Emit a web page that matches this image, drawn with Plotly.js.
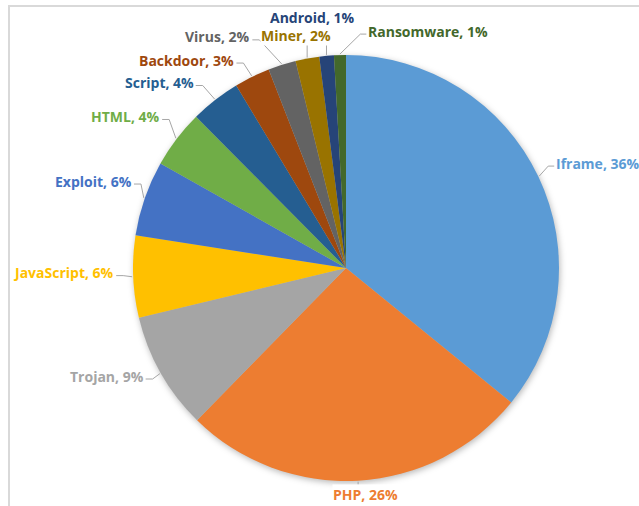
<!DOCTYPE html>
<html>
<head>
<meta charset="utf-8">
<script src="https://cdn.plot.ly/plotly-3.0.1.min.js"></script>
<style>
  html, body { margin: 0; padding: 0; background: #fff; }
  #wrap { position: relative; width: 639px; height: 506px; overflow: hidden; }
  #frame { position: absolute; left: 8px; top: 5px; width: 640px; height: 520px;
           border-top: 2px solid #d9d9d9; border-left: 2px solid #d9d9d9; pointer-events: none; }
  #chart { position: absolute; left: 0; top: 0; width: 639px; height: 506px; }
  #chart .pielayer { filter: drop-shadow(1px 2px 3px rgba(0,0,0,0.28)); }
</style>
</head>
<body>
<div id="wrap">
  <div id="chart"></div>
  <div id="frame"></div>
</div>
<script>
// ---- data ----
const categories = ['Iframe', 'PHP', 'Trojan', 'JavaScript', 'Exploit', 'HTML', 'Script', 'Backdoor', 'Virus', 'Miner', 'Android', 'Ransomware'];
const shares = [35.8, 26.4, 8.9, 6.2, 5.7, 4.4, 3.8, 2.7, 2.1, 1.8, 1.1, 0.9];
const sliceColors = ['#5B9BD5', '#ED7D31', '#A5A5A5', '#FFC000', '#4472C4', '#70AD47', '#255E91', '#9E480E', '#636363', '#997300', '#264478', '#43682B'];

// ---- label placement (layout only) ----
const labelXAnchor = ['left', 'center', 'right', 'right', 'right', 'right', 'right', 'right', 'right', 'center', 'center', 'left'];
const labelYAnchor = ['middle', 'top', 'middle', 'middle', 'middle', 'middle', 'middle', 'middle', 'middle', 'bottom', 'bottom', 'middle'];
const labelNudge = [[-3, -4], [6, -19], [3, -8], [4, -5], [9, -10], [2, -9], [-7, 0], [-7, 3], [-24, -7], [-7, 9], [-12, -6], [28, -2]];

const W = 639, H = 506;
const cx = 346, cy = 268, R = 213, gap = 22;
const px = x => x / W;
const py = y => 1 - y / H;

const total = shares.reduce((a, b) => a + b, 0);

const annotations = [];
const shapes = [];
let cum = 0;
shares.forEach((v, i) => {
  const mid = (cum + v / 2) / total * 2 * Math.PI;
  cum += v;
  const s = Math.sin(mid), c = Math.cos(mid);
  const P = [cx + (R + 1) * s, cy - (R + 1) * c];
  const ax = cx + (R + gap) * s + labelNudge[i][0];
  const ay = cy - (R + gap) * c + labelNudge[i][1];
  const pct = Math.round(100 * v / total);
  annotations.push({
    x: px(ax), y: py(ay), xref: 'paper', yref: 'paper',
    xanchor: labelXAnchor[i], yanchor: labelYAnchor[i],
    text: '<b>' + categories[i] + ', ' + pct + '%</b>',
    showarrow: false, bgcolor: '#ffffff', borderpad: 0,
    font: { family: 'Open Sans, sans-serif', size: 14, color: sliceColors[i] }
  });
  let pts;
  if (labelXAnchor[i] === 'left') {
    const T = [ax - 1, ay + 3], E = [ax - 7, ay + 3];
    pts = [P, E, T];
  } else if (labelXAnchor[i] === 'right') {
    const T = [ax + 1, ay + 3], E = [ax + 8, ay + 3];
    pts = [P, E, T];
  } else if (labelYAnchor[i] === 'top') {
    pts = [P, [P[0], ay + 1]];
  } else {
    pts = [P, [P[0], ay - 1]];
  }
  const path = pts.map((p, k) => (k ? 'L' : 'M') + px(p[0]).toFixed(5) + ',' + py(p[1]).toFixed(5)).join(' ');
  shapes.push({ type: 'path', xref: 'paper', yref: 'paper', path: path, layer: 'above',
                line: { color: '#a6a6a6', width: 1 } });
});

const trace = {
  type: 'pie',
  labels: categories,
  values: shares,
  sort: false,
  direction: 'clockwise',
  rotation: 0,
  marker: { colors: sliceColors, line: { color: '#ffffff', width: 0 } },
  textinfo: 'none',
  hoverinfo: 'label+percent',
  showlegend: false,
  domain: { x: [(cx - R) / W, (cx + R) / W], y: [(H - cy - R) / H, (H - cy + R) / H] }
};

const layout = {
  width: W, height: H,
  margin: { l: 0, r: 0, t: 0, b: 0 },
  paper_bgcolor: '#ffffff',
  showlegend: false,
  shapes: shapes,
  annotations: annotations
};

Plotly.newPlot('chart', [trace], layout, { displayModeBar: false, staticPlot: true });
</script>
</body>
</html>
